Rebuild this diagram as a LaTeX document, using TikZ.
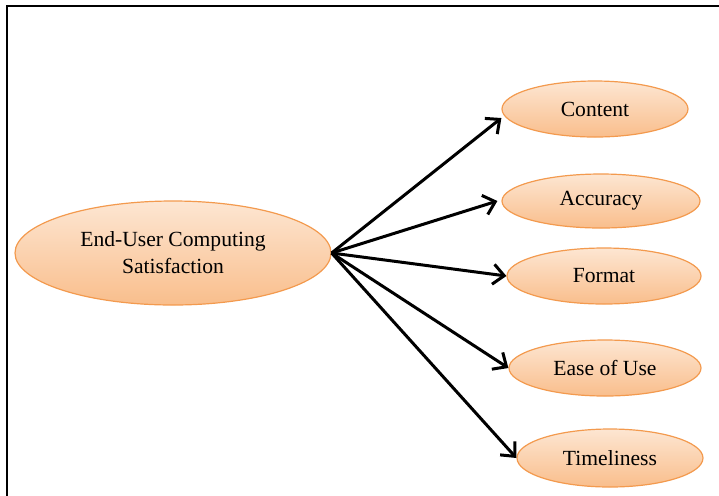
\documentclass[tikz,border=0pt]{standalone}
\usepackage{fontspec}
\setmainfont{Liberation Serif}
\usepackage{xcolor}
\usetikzlibrary{shapes.geometric,arrows.meta}

\definecolor{ovalTop}{HTML}{FDE6D2}
\definecolor{ovalBottom}{HTML}{F9BE8C}
\definecolor{ovalEdge}{HTML}{F39A4E}

\tikzset{
  oval/.style={ellipse, draw=ovalEdge, line width=0.6pt, top color=ovalTop,
    bottom color=ovalBottom, inner sep=0pt, align=center,
    font=\fontsize{10.8}{13.5}\selectfont},
  link/.style={line width=1.5pt, -{Straight Barb[length=5.5pt,width=10pt,line width=1.5pt]}}
}

\begin{document}
\begin{tikzpicture}[x=0.5pt,y=-0.5pt]
    \useasboundingbox (0,0) rectangle (719,495);
    % outer frame
    \draw[line width=1pt] (7,530) -- (7,6) -- (760,6);

    % factor in the middle
    \node[oval, minimum width=158pt, minimum height=52pt] (eucs) at (173,253)
        {End-User Computing\\Satisfaction};

    % the five dimensions
    \node[oval, minimum width=93pt, minimum height=28pt] (content) at (595,109) {Content};
    \node[oval, minimum width=99pt, minimum height=27pt] (accuracy) at (601,201) {Accuracy};
    \node[oval, minimum width=97pt, minimum height=28pt] (format) at (604,276) {Format};
    \node[oval, minimum width=96pt, minimum height=28pt] (ease) at (605,368) {Ease of Use};
    \node[oval, minimum width=93pt, minimum height=29pt] (timely) at (610,458) {Timeliness};

    % arrows
    \draw[link] (eucs.east) -- ([yshift=-4.5pt]content.west);
    \draw[link] (eucs.east) -- ([xshift=-2pt]accuracy.west);
    \draw[link] (eucs.east) -- (format.west);
    \draw[link] (eucs.east) -- (ease.west);
    \draw[link] (eucs.east) -- (timely.west);
\end{tikzpicture}
\end{document}
